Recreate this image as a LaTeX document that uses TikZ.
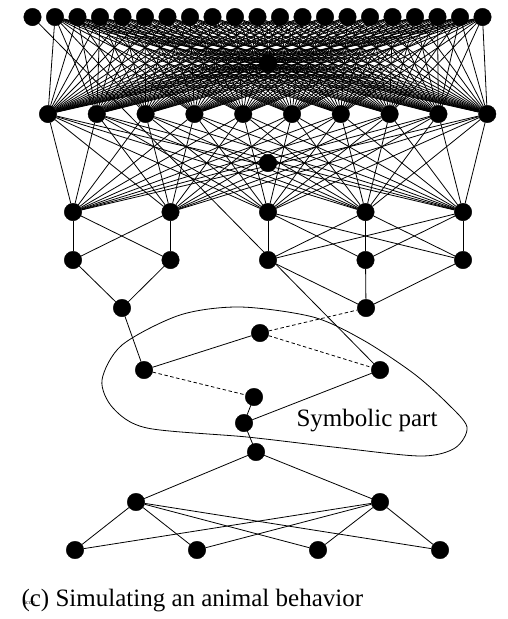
\documentclass[tikz,border=0pt]{standalone}
\usepackage{fontspec}
\setmainfont{Liberation Serif}

\begin{document}
\begin{tikzpicture}[
  x=1pt,y=-1pt,
  unit/.style={circle,fill=black,draw=black,minimum size=17.5pt,inner sep=0pt},
  link/.style={line width=0.8pt},
  weak/.style={line width=0.8pt,dash pattern=on 3.5pt off 2.5pt},
  bigtext/.style={font=\fontsize{25}{30}\selectfont}
]
\useasboundingbox (0,0) rectangle (508,619);
% subsymbolic layers
\foreach \i in {1,...,21} \node[unit] (t\i) at ({10+22.5*\i},17) {};
\foreach \j in {1,...,10} \node[unit] (m\j) at ({-0.8+48.8*\j},114) {};
\node[unit] (h1) at (268,63) {};
\node[unit] (h2) at (268,163) {};
\foreach \k in {1,...,5} {
  \node[unit] (p\k) at ({-24.5+97.5*\k},212) {};
  \node[unit] (q\k) at ({-24.5+97.5*\k},260) {};
}
\node[unit] (r1) at (122,308) {};
\node[unit] (r2) at (366,308) {};
% symbolic part
\node[unit] (sc) at (260,333) {};
\node[unit] (sd) at (144,370) {};
\node[unit] (se) at (380,370) {};
\node[unit] (sf) at (254,397) {};
\node[unit] (sg) at (244,423) {};
\node[unit] (sh) at (256,452) {};
\draw[line width=0.8pt] plot[smooth cycle] coordinates {(102,380) (122,345) (180,315) (240,307) (313,317) (363,340) (413,373) (447,403) (467,427) (455,448) (420,456) (333,447) (247,437) (147,428) (113,408)};
\node[bigtext] (symlabel) at (367,421) {Symbolic part};
% output layers
\node[unit] (o1) at (136,502) {};
\node[unit] (o2) at (380,502) {};
\foreach \n/\x in {1/75,2/197,3/318,4/440} \node[unit] (b\n) at (\x,550) {};

\foreach \i in {2,...,21} \foreach \j in {1,...,10} \draw[link] (t\i) -- (m\j);
\foreach \j in {1,...,10} \foreach \k in {1,...,5} \draw[link] (m\j) -- (p\k);
\foreach \a/\b in {1/1,1/2,2/1,2/2,3/3,3/4,3/5,4/3,4/4,4/5,5/3,5/4,5/5} \draw[link] (p\a) -- (q\b);
\draw[link] (q1) -- (r1);
\draw[link] (q2) -- (r1);
\foreach \k in {3,4,5} \draw[link] (q\k) -- (r2);
\draw[link] (t1) -- (se);
\draw[link] (r1) -- (sd);
\draw[link] (sd) -- (sc);
\draw[weak] (sc) -- (r2);
\draw[weak] (sc) -- (se);
\draw[weak] (sd) -- (sf);
\draw[link] (sf) -- (sg);
\draw[link] (sg) -- (se);
\draw[link] (sg) -- (sh);
\draw[link] (sh) -- (o1);
\draw[link] (sh) -- (o2);
\foreach \n in {1,...,4} {
  \draw[link] (o1) -- (b\n);
  \draw[link] (o2) -- (b\n);
}

\node[bigtext,anchor=base west] (caption) at (18,606) {\rlap{\kern3pt\raisebox{2pt}{\fontsize{6}{7}\selectfont icon}}(c) Simulating an animal behavior};
\end{tikzpicture}
\end{document}
